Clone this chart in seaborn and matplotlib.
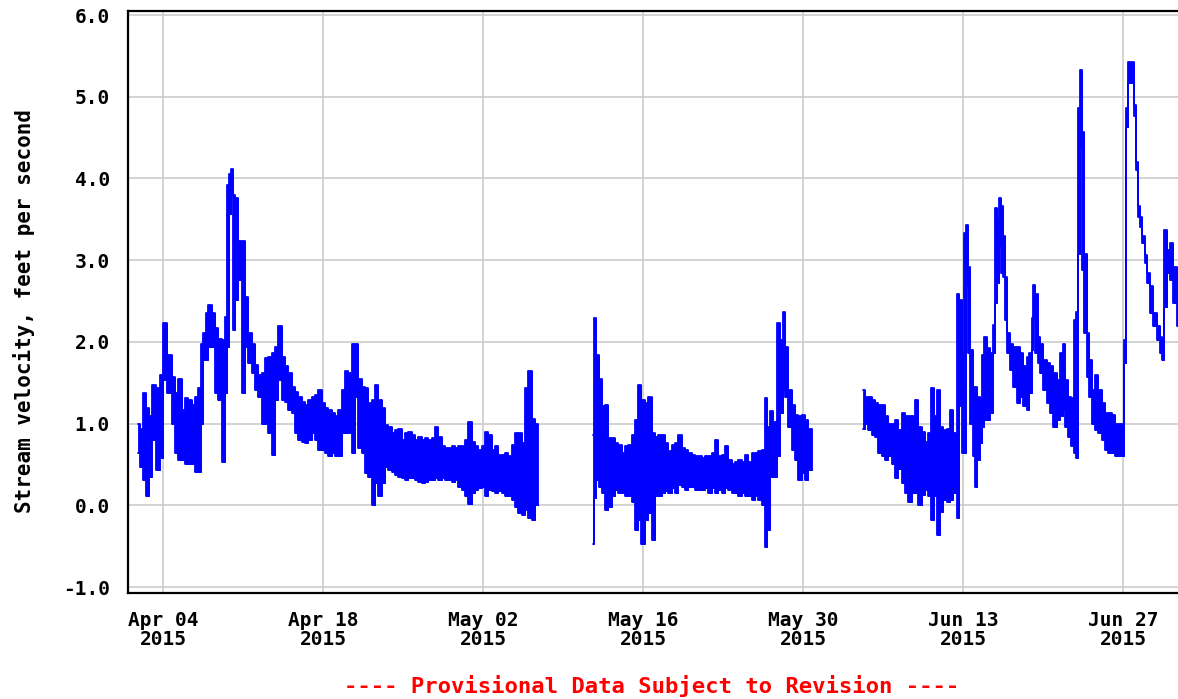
import numpy as np
import pandas as pd
import matplotlib
matplotlib.use("Agg")
import matplotlib.pyplot as plt
import matplotlib.dates as mdates
import seaborn as sns

# ---- data (days since 2015-04-01 00:00, lower / upper envelope of the noisy trace, ft/s) ----
day1 = [0.81, 1.10, 1.40, 1.63, 1.83, 2.13, 2.56, 2.80, 3.15, 3.58,
        3.87, 4.17, 4.46, 4.75, 5.04, 5.33, 5.62, 5.92, 6.21, 6.35,
        6.65, 6.79, 7.08, 7.37, 7.67, 7.96, 8.25, 8.48, 8.63, 8.83,
        9.04, 9.21, 9.42, 9.71, 10.0, 10.29, 10.58, 10.87, 11.17, 11.46,
        11.75, 12.04, 12.33, 12.62, 12.92, 13.21, 13.50, 13.79, 14.08, 14.37,
        14.67, 14.96, 15.25, 15.54, 15.83, 16.12, 16.42, 16.71, 17.0, 17.29,
        17.58, 17.87, 18.16, 18.46, 18.75, 19.04, 19.33, 19.62, 19.91, 20.21,
        20.50, 20.79, 21.08, 21.38, 21.67, 21.96, 22.25, 22.54, 22.83, 23.13,
        23.42, 23.71, 24.0, 24.29, 24.58, 24.88, 25.17, 25.46, 25.75, 26.04,
        26.33, 26.63, 26.92, 27.21, 27.50, 27.79, 28.08, 28.38, 28.67, 28.96,
        29.25, 29.54, 29.83, 30.13, 30.42, 30.71, 31.0, 31.29, 31.58, 31.88,
        32.17, 32.46, 32.75, 33.04, 33.33, 33.63, 33.92, 34.21, 34.50, 34.79,
        35.08, 35.38, 35.67, 35.81]
lo1 = [0.64, 0.47, 0.31, 0.11, 0.35, 0.80, 0.43, 0.58, 1.53, 1.37,
       1.00, 0.64, 0.55, 0.55, 0.51, 0.51, 0.51, 0.41, 0.41, 1.00,
       1.78, 1.78, 1.94, 1.94, 1.37, 1.29, 0.53, 1.37, 1.94, 3.57,
       3.78, 2.15, 2.51, 2.76, 1.37, 1.94, 1.74, 1.62, 1.41, 1.33,
       1.00, 1.00, 0.88, 0.62, 1.29, 1.53, 1.29, 1.27, 1.17, 1.13,
       0.88, 0.80, 0.78, 0.76, 0.80, 0.88, 0.80, 0.68, 0.68, 0.64,
       0.60, 0.64, 0.60, 0.60, 0.88, 0.88, 0.88, 0.64, 1.33, 0.70,
       0.64, 0.39, 0.35, 0.00, 0.27, 0.11, 0.27, 0.47, 0.43, 0.41,
       0.37, 0.35, 0.33, 0.31, 0.33, 0.33, 0.31, 0.29, 0.27, 0.29,
       0.31, 0.31, 0.33, 0.31, 0.33, 0.31, 0.31, 0.29, 0.31, 0.23,
       0.19, 0.11, 0.02, 0.15, 0.19, 0.21, 0.23, 0.11, 0.19, 0.17,
       0.15, 0.17, 0.15, 0.11, 0.11, 0.07, -0.02, -0.10, -0.12, -0.06,
       -0.16, -0.18, 0.00, 0.00]
hi1 = [1.00, 0.94, 1.37, 1.19, 1.09, 1.47, 1.43, 1.60, 2.23, 1.84,
       1.57, 1.37, 1.55, 1.17, 1.31, 1.29, 1.23, 1.33, 1.43, 1.98,
       2.11, 2.35, 2.45, 2.35, 2.17, 2.04, 2.02, 2.31, 3.92, 4.06,
       4.12, 3.80, 3.76, 3.23, 3.23, 2.55, 2.11, 1.98, 1.72, 1.60,
       1.62, 1.80, 1.82, 1.86, 1.94, 2.19, 1.82, 1.70, 1.62, 1.45,
       1.39, 1.33, 1.27, 1.23, 1.29, 1.33, 1.35, 1.41, 1.25, 1.19,
       1.17, 1.13, 1.09, 1.17, 1.41, 1.64, 1.62, 1.98, 1.98, 1.55,
       1.45, 1.43, 1.25, 1.29, 1.47, 1.29, 1.19, 0.98, 0.96, 0.88,
       0.92, 0.94, 0.80, 0.88, 0.90, 0.86, 0.80, 0.84, 0.80, 0.82,
       0.80, 0.82, 0.96, 0.84, 0.72, 0.70, 0.70, 0.72, 0.70, 0.72,
       0.72, 0.80, 1.02, 0.78, 0.72, 0.68, 0.72, 0.90, 0.86, 0.68,
       0.72, 0.62, 0.62, 0.64, 0.60, 0.74, 0.88, 0.88, 0.76, 1.43,
       1.64, 1.06, 1.00, 1.00]

day2 = [40.57, 40.77, 40.98, 41.21, 41.50, 41.79, 42.08, 42.38, 42.67, 42.96,
        43.25, 43.54, 43.83, 44.13, 44.42, 44.71, 44.94, 45.29, 45.58, 45.88,
        46.17, 46.46, 46.75, 47.04, 47.33, 47.63, 47.92, 48.21, 48.50, 48.79,
        49.08, 49.38, 49.67, 49.96, 50.25, 50.54, 50.83, 51.13, 51.42, 51.71,
        52.0, 52.29, 52.58, 52.88, 53.17, 53.46, 53.75, 54.04, 54.33, 54.63,
        54.92, 55.21, 55.50, 55.73, 55.94, 56.23, 56.52, 56.81, 57.10, 57.31,
        57.54, 57.83, 58.12, 58.42, 58.71, 59.0, 59.29, 59.58, 59.79]
lo2 = [-0.47, 0.09, 0.31, 0.23, 0.15, -0.06, -0.02, 0.11, 0.19, 0.15,
       0.15, 0.11, 0.11, 0.04, -0.30, -0.18, -0.47, -0.18, -0.10, -0.42,
       0.11, 0.11, 0.15, 0.17, 0.15, 0.21, 0.15, 0.25, 0.23, 0.19,
       0.23, 0.23, 0.19, 0.19, 0.19, 0.21, 0.15, 0.21, 0.15, 0.19,
       0.15, 0.21, 0.19, 0.15, 0.15, 0.11, 0.15, 0.11, 0.11, 0.07,
       0.11, 0.07, 0.00, -0.51, -0.30, 0.35, 0.35, 0.60, 1.13, 1.41,
       1.33, 0.96, 0.68, 0.55, 0.31, 0.39, 0.31, 0.43, 0.43]
hi2 = [0.86, 2.29, 1.84, 1.55, 1.21, 1.23, 0.82, 0.82, 0.76, 0.74,
       0.64, 0.72, 0.74, 0.86, 1.04, 1.47, 1.29, 1.25, 1.33, 0.88,
       0.84, 0.86, 0.86, 0.76, 0.66, 0.74, 0.76, 0.86, 0.70, 0.68,
       0.64, 0.62, 0.60, 0.60, 0.58, 0.60, 0.60, 0.64, 0.80, 0.60,
       0.62, 0.72, 0.55, 0.51, 0.53, 0.55, 0.53, 0.62, 0.53, 0.64,
       0.64, 0.66, 0.68, 1.31, 0.96, 1.15, 1.02, 2.23, 2.02, 2.37,
       1.94, 1.41, 1.23, 1.11, 1.09, 1.11, 1.04, 0.94, 0.94]

day3 = [64.25, 64.54, 64.83, 65.12, 65.41, 65.70, 66.0, 66.29, 66.58, 66.87,
        67.16, 67.45, 67.75, 68.04, 68.33, 68.62, 68.91, 69.20, 69.50, 69.79,
        70.08, 70.31, 70.60, 70.84, 71.10, 71.39, 71.68, 71.97, 72.27, 72.56,
        72.76, 73.0, 73.14, 73.35, 73.52, 73.72, 73.93, 74.10, 74.31, 74.60,
        74.75, 74.89, 75.18, 75.47, 75.68, 75.82, 76.0, 76.15, 76.35, 76.55,
        76.73, 76.93, 77.22, 77.52, 77.81, 78.10, 78.39, 78.68, 78.89, 79.06,
        79.21, 79.41, 79.62, 79.85, 80.14, 80.43, 80.72, 81.02, 81.31, 81.60,
        81.80, 82.04, 82.33, 82.56, 82.77, 82.97, 83.14, 83.35, 83.49, 83.70,
        83.87, 84.08, 84.37, 84.66, 84.95, 85.24, 85.54, 85.83, 86.12, 86.41,
        86.70, 87.0, 87.17, 87.34, 87.52, 87.81, 88.01, 88.16, 88.34, 88.51,
        88.74, 88.98, 89.18, 89.47, 89.76, 90.06, 90.35, 90.49, 90.64, 90.93,
        91.22, 91.52, 91.78]
lo3 = [0.94, 1.00, 0.92, 0.86, 0.84, 0.64, 0.60, 0.55, 0.60, 0.51,
       0.33, 0.45, 0.27, 0.15, 0.04, 0.15, 0.15, 0.00, 0.13, 0.19,
       0.11, -0.18, 0.11, -0.36, -0.08, 0.07, 0.04, 0.07, 0.15, -0.16,
       1.21, 0.64, 0.64, 2.68, 1.86, 1.00, 0.60, 0.23, 0.55, 0.76,
       0.96, 1.04, 1.04, 1.13, 1.86, 2.47, 2.72, 3.17, 2.84, 2.80,
       2.27, 1.86, 1.66, 1.45, 1.25, 1.33, 1.21, 1.17, 1.37, 1.90,
       2.27, 1.86, 1.74, 1.62, 1.41, 1.25, 1.13, 0.96, 1.04, 1.09,
       1.17, 0.96, 0.84, 0.72, 0.64, 0.58, 3.08, 4.39, 2.88, 2.11,
       1.57, 1.33, 1.00, 0.92, 0.88, 0.80, 0.68, 0.64, 0.64, 0.60,
       0.60, 0.60, 1.74, 4.63, 5.17, 5.17, 4.76, 4.10, 3.53, 3.41,
       3.21, 2.96, 2.72, 2.35, 2.19, 2.02, 1.86, 1.78, 2.43, 2.84,
       2.76, 2.47, 2.19]
hi3 = [1.41, 1.33, 1.33, 1.29, 1.25, 1.23, 1.23, 1.09, 1.00, 1.00,
       1.04, 0.92, 1.13, 1.09, 1.09, 1.09, 1.29, 0.96, 0.90, 0.78,
       0.88, 1.43, 1.09, 1.41, 0.96, 0.92, 0.94, 1.17, 0.88, 2.59,
       2.51, 1.86, 3.33, 3.43, 2.92, 1.90, 1.45, 1.45, 1.33, 1.29,
       1.84, 2.06, 1.92, 1.86, 2.21, 3.64, 3.49, 3.76, 3.66, 3.29,
       2.80, 2.11, 1.98, 1.94, 1.94, 1.86, 1.70, 1.82, 1.86, 2.29,
       2.70, 2.59, 2.06, 1.98, 1.78, 1.74, 1.70, 1.62, 1.53, 1.86,
       1.98, 1.53, 1.33, 1.31, 2.27, 2.37, 4.86, 5.33, 4.57, 3.08,
       2.11, 1.78, 1.41, 1.60, 1.41, 1.25, 1.13, 1.13, 1.11, 1.00,
       1.00, 1.00, 2.02, 4.86, 5.43, 5.43, 4.90, 4.20, 3.66, 3.53,
       3.29, 3.06, 2.84, 2.68, 2.35, 2.19, 2.06, 1.98, 3.37, 3.13,
       3.21, 2.92, 2.51]

tick_dates = ["2015-04-04", "2015-04-18", "2015-05-02", "2015-05-16",
              "2015-05-30", "2015-06-13", "2015-06-27"]
tick_labels = ["Apr 04\n2015", "Apr 18\n2015", "May 02\n2015", "May 16\n2015",
               "May 30\n2015", "Jun 13\n2015", "Jun 27\n2015"]
y_ticks = [-1.0, 0.0, 1.0, 2.0, 3.0, 4.0, 5.0, 6.0]
y_label = "Stream velocity, feet per second"
footer = "---- Provisional Data Subject to Revision ----"

# ---- drawing ----
sns.set_theme(style="white")
plt.rcParams["font.family"] = ["DejaVu Sans Mono", "DejaVu Sans"]
plt.rcParams["font.weight"] = "bold"

W, H = 1178, 699
fig = plt.figure(figsize=(W / 100, H / 100), dpi=100)
fig.patch.set_facecolor("white")
ax = fig.add_axes([128 / W, 1 - 593 / H, 1 - 128 / W, (593 - 11) / H])
ax.set_facecolor("white")

base_num = mdates.date2num(pd.Timestamp("2015-04-01"))
BLUE = "#0000ff"

for d, lo, hi in [(day1, lo1, hi1), (day2, lo2, hi2), (day3, lo3, hi3)]:
    x = base_num + np.asarray(d, dtype=float)
    lo_a = np.asarray(lo, dtype=float)
    hi_a = np.asarray(hi, dtype=float)
    ax.fill_between(x, lo_a, hi_a, step="mid", facecolor=BLUE,
                    edgecolor=BLUE, lw=0.6, zorder=2)
    sns.lineplot(x=x, y=hi_a, ax=ax, color=BLUE, lw=1.3, drawstyle="steps-mid",
                 estimator=None, sort=False, zorder=3)
    sns.lineplot(x=x, y=lo_a, ax=ax, color=BLUE, lw=1.3, drawstyle="steps-mid",
                 estimator=None, sort=False, zorder=3)

ax.set_xlim(base_num - 0.088, base_num + 91.78)
ax.set_ylim(-1.073, 6.049)

ax.set_xticks(mdates.date2num(pd.to_datetime(tick_dates)))
ax.set_xticklabels(tick_labels, fontsize=14, fontweight="bold",
                   fontfamily="DejaVu Sans Mono", linespacing=1.0)
ax.set_yticks(y_ticks)
ax.set_yticklabels([f"{v:.1f}" for v in y_ticks], fontsize=14, fontweight="bold",
                   fontfamily="DejaVu Sans Mono")
ax.tick_params(axis="both", length=0, colors="black")
ax.tick_params(axis="y", pad=13)
ax.tick_params(axis="x", pad=13)

ax.grid(True, color="#cccccc", lw=1.2, zorder=0)
ax.set_axisbelow(True)
ax.set_xlabel("")
ax.set_ylabel("")

for side in ["top", "left", "bottom"]:
    ax.spines[side].set_visible(True)
    ax.spines[side].set_color("black")
    ax.spines[side].set_linewidth(1.6)
ax.spines["right"].set_visible(False)

fig.text(24 / W, 1 - 311 / H, y_label, rotation=90, ha="center", va="center",
         fontsize=15, fontweight="bold", fontfamily="DejaVu Sans Mono", color="black")
fig.text(652 / W, 1 - 686 / H, footer, ha="center", va="center", color="#ff0000",
         fontsize=16, fontweight="bold", fontfamily="DejaVu Sans Mono")

fig.savefig("out.png", dpi=100, facecolor="white")
